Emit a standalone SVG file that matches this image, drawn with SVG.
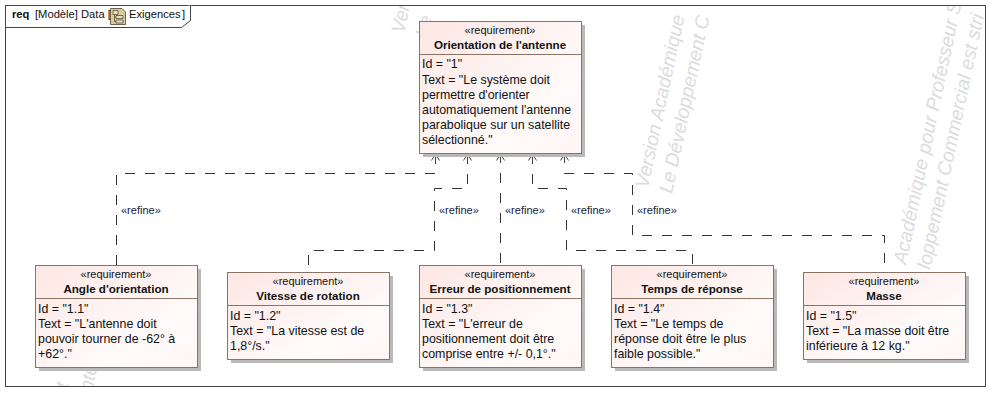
<svg xmlns="http://www.w3.org/2000/svg" width="1000" height="402" viewBox="0 0 1000 402">
<style>
text{font-family:"Liberation Sans",Arial,sans-serif;fill:#111}
.wm{font-size:19.3px;fill:#dcdcdc;font-style:italic}
.st{font-size:11px;text-anchor:middle}
.ti{font-size:11.6px;font-weight:bold;text-anchor:middle}
.bd{font-size:12.4px}
.lb{font-size:11px;fill:#1a1a3a}
.tab{font-size:11.2px}
.box{fill:url(#g);stroke:#8a7361;stroke-width:1}
.sh{fill:#b9b9b9}
.dv{stroke:#8a7361;stroke-width:1}
.cn{fill:none;stroke:#333;stroke-width:1;stroke-dasharray:10 10;marker-end:url(#a)}
</style>
<defs>
<linearGradient id="g" x1="0" y1="0" x2="1" y2="1"><stop offset="0" stop-color="#fde6e3"/><stop offset="0.7" stop-color="#fffbfb"/><stop offset="1" stop-color="#fff6f5"/></linearGradient>
<marker id="a" markerUnits="userSpaceOnUse" markerWidth="12" markerHeight="10" refX="10" refY="5" orient="auto" overflow="visible"><path d="M1 5H10M3.500 1L10 5L3.500 9" fill="none" stroke="#444" stroke-width="1"/></marker>
<clipPath id="fc"><rect x="6" y="6" width="979" height="380"/></clipPath>
</defs>
<rect width="1000" height="402" fill="#fff"/>
<g id="watermark" clip-path="url(#fc)">
<text class="wm" transform="translate(648,189) rotate(-78)">Version Académique</text>
<text class="wm" transform="translate(672,194) rotate(-78)">Le Développement C</text>
<text class="wm" transform="translate(906,265) rotate(-78)">Académique pour Professeur S</text>
<text class="wm" transform="translate(930,270) rotate(-78)">loppement Commercial est stri</text>
<text class="wm" transform="translate(404,34) rotate(-78)">Ver</text>
<text class="wm" transform="translate(428,38) rotate(-78)">Le</text>
<text class="wm" transform="translate(68,389) rotate(-78)">t</text>
<text class="wm" transform="translate(92,392) rotate(-78)">nte</text>
</g>
<g id="frame">
<rect x="5.500" y="5.500" width="980" height="381" fill="none" stroke="#444"/>
<path d="M5.500 27.500H181.500L190.500 20.500V5.500" fill="#fff" stroke="#444"/>
<text class="tab" x="12" y="18" font-weight="bold" font-size="12">req</text>
<text class="tab" x="35" y="18">[Modèle] Data [</text>
<g id="icon"><path d="M110.500 8.500H122L125.500 12V24.500H110.500Z" fill="#d9cb9f" stroke="#6b6350"/><path d="M113 10.500h5v4h-5zM116 15.500h7v3h-7zM116 20h7v3h-7zM114.500 14.500v7h1.500M114.500 17h1.500" fill="#e8dfc0" stroke="#5a533f" stroke-width=".8"/></g>
<text class="tab" x="129" y="18">Exigences</text>
<text class="tab" x="182" y="18">]</text>
</g>
<g id="connectors">
<path class="cn" d="M116.500 265V173.500H435.500V154"/>
<path class="cn" d="M308.500 265V250.500H434.500V188.500H467.500V154"/>
<path class="cn" d="M500.500 263V154"/>
<path class="cn" d="M692.500 264V250.500H566.500V188.500H532.500V154"/>
<path class="cn" d="M884.500 263V235.500H632.500V173.500H564.500V154"/>
<text class="lb" x="121" y="214">«refine»</text>
<text class="lb" x="439" y="214">«refine»</text>
<text class="lb" x="505" y="214">«refine»</text>
<text class="lb" x="571" y="214">«refine»</text>
<text class="lb" x="637" y="214">«refine»</text>
</g>
<g id="n1">
<rect class="sh" x="423" y="25" width="162" height="132"/>
<rect class="box" x="419.500" y="21.500" width="162" height="132"/>
<path class="dv" d="M419.500 54.500H581.500"/>
<text class="st" x="500" y="34">«requirement»</text>
<text class="ti" x="500" y="49">Orientation de l'antenne</text>
<text class="bd" x="422" y="68">Id = "1"</text>
<text class="bd" x="422" y="84">Text = "Le système doit</text>
<text class="bd" x="422" y="99">permettre d'orienter</text>
<text class="bd" x="422" y="114">automatiquement l'antenne</text>
<text class="bd" x="422" y="129">parabolique sur un satellite</text>
<text class="bd" x="422" y="144">sélectionné."</text>
</g>
<g id="n11">
<rect class="sh" x="39" y="269" width="162" height="102"/>
<rect class="box" x="35.500" y="265.500" width="162" height="102"/>
<path class="dv" d="M35.500 298.500H197.500"/>
<text class="st" x="116" y="278">«requirement»</text>
<text class="ti" x="116" y="293">Angle d'orientation</text>
<text class="bd" x="38" y="313">Id = "1.1"</text>
<text class="bd" x="38" y="328">Text = "L'antenne doit</text>
<text class="bd" x="38" y="343">pouvoir tourner de -62° à</text>
<text class="bd" x="38" y="358">+62°."</text>
</g>
<g id="n12">
<rect class="sh" x="231" y="276" width="162" height="87"/>
<rect class="box" x="227.500" y="272.500" width="162" height="87"/>
<path class="dv" d="M227.500 305.500H389.500"/>
<text class="st" x="308" y="285">«requirement»</text>
<text class="ti" x="308" y="300">Vitesse de rotation</text>
<text class="bd" x="230" y="320">Id = "1.2"</text>
<text class="bd" x="230" y="335">Text = "La vitesse est de</text>
<text class="bd" x="230" y="350">1,8°/s."</text>
</g>
<g id="n13">
<rect class="sh" x="423" y="269" width="162" height="102"/>
<rect class="box" x="419.500" y="265.500" width="162" height="102"/>
<path class="dv" d="M419.500 298.500H581.500"/>
<text class="st" x="500" y="278">«requirement»</text>
<text class="ti" x="500" y="293">Erreur de positionnement</text>
<text class="bd" x="422" y="313">Id = "1.3"</text>
<text class="bd" x="422" y="328">Text = "L'erreur de</text>
<text class="bd" x="422" y="343">positionnement doit être</text>
<text class="bd" x="422" y="358">comprise entre +/- 0,1°."</text>
</g>
<g id="n14">
<rect class="sh" x="615" y="269" width="162" height="102"/>
<rect class="box" x="611.500" y="265.500" width="162" height="102"/>
<path class="dv" d="M611.500 298.500H773.500"/>
<text class="st" x="692" y="278">«requirement»</text>
<text class="ti" x="692" y="293">Temps de réponse</text>
<text class="bd" x="614" y="313">Id = "1.4"</text>
<text class="bd" x="614" y="328">Text = "Le temps de</text>
<text class="bd" x="614" y="343">réponse doit être le plus</text>
<text class="bd" x="614" y="358">faible possible."</text>
</g>
<g id="n15">
<rect class="sh" x="807" y="276" width="162" height="87"/>
<rect class="box" x="803.500" y="272.500" width="162" height="87"/>
<path class="dv" d="M803.500 305.500H965.500"/>
<text class="st" x="884" y="285">«requirement»</text>
<text class="ti" x="884" y="300">Masse</text>
<text class="bd" x="806" y="320">Id = "1.5"</text>
<text class="bd" x="806" y="335">Text = "La masse doit être</text>
<text class="bd" x="806" y="350">inférieure à 12 kg."</text>
</g>
</svg>
